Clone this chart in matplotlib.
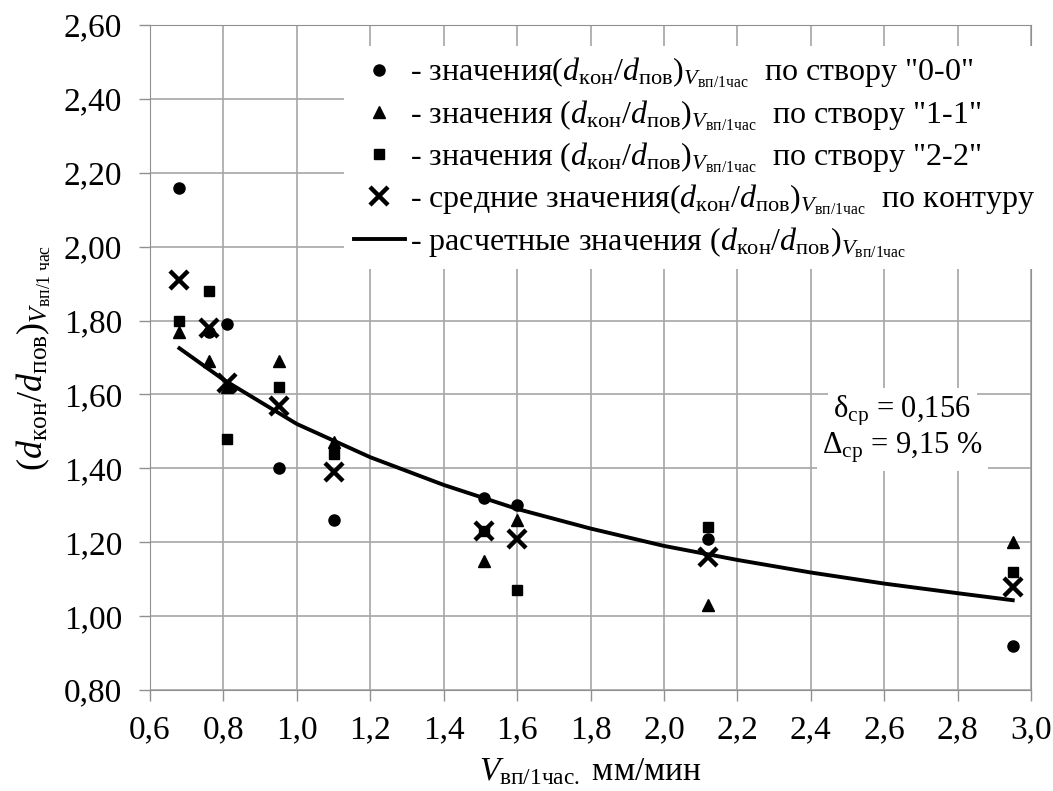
import matplotlib.pyplot as plt
from matplotlib.ticker import FuncFormatter, MultipleLocator

plt.rcParams['font.family'] = ['Liberation Serif', 'DejaVu Serif']
plt.rcParams['mathtext.fontset'] = 'custom'
plt.rcParams['mathtext.rm'] = 'Liberation Serif'
plt.rcParams['mathtext.it'] = 'Liberation Serif:italic'
plt.rcParams['mathtext.bf'] = 'Liberation Serif:bold'

# скорости водопонижения, мм/мин
xVals = [0.68, 0.76, 0.81, 0.95, 1.10, 1.51, 1.60, 2.12, 2.95]

# створ "0-0", "1-1", "2-2" и среднее по контуру
y00 = [2.16, 1.77, 1.79, 1.40, 1.26, 1.32, 1.30, 1.21, 0.92]
y11 = [1.77, 1.69, 1.62, 1.69, 1.47, 1.15, 1.26, 1.03, 1.20]
y22 = [1.80, 1.88, 1.48, 1.62, 1.44, 1.23, 1.07, 1.24, 1.12]
yMean = [1.91, 1.78, 1.63, 1.57, 1.39, 1.23, 1.21, 1.16, 1.08]

# расчетная кривая
xCalc = [0.68, 0.80, 1.00, 1.20, 1.40, 1.60, 1.80, 2.00, 2.20, 2.40, 2.60, 2.80, 2.95]
yCalc = [1.725, 1.64, 1.52, 1.43, 1.355, 1.29, 1.237, 1.19, 1.152, 1.118, 1.088, 1.062, 1.043]

ratio = r'$(d_{\mathrm{кон}}/d_{\mathrm{пов}})_{V_{\mathrm{вп/1час}}}$'
labels = ['- значения' + ratio + '  по створу "0-0"',
          '- значения ' + ratio + '  по створу "1-1"',
          '- значения ' + ratio + '  по створу "2-2"',
          '- средние значения' + ratio + '  по контуру',
          '- расчетные значения ' + ratio]

fig = plt.figure(figsize=(10.53, 7.91), dpi=100)
ax = fig.add_axes([0.1425, 0.1277, 0.8367, 0.8407])

ax.plot(xCalc, yCalc, color='black', lw=2.8, zorder=3, label=labels[4])
ax.plot(xVals, y00, 'o', color='black', ms=8, zorder=4, label=labels[0])
ax.plot(xVals, y11, '^', color='black', ms=8, zorder=4, label=labels[1])
ax.plot(xVals, y22, 's', color='black', ms=7.5, zorder=4, label=labels[2])
ax.plot(xVals, yMean, 'x', color='black', ms=13, mew=3.2, zorder=5, label=labels[3])

ax.set_xlim(0.6, 3.0)
ax.set_ylim(0.8, 2.6)
ax.xaxis.set_major_locator(MultipleLocator(0.2))
ax.yaxis.set_major_locator(MultipleLocator(0.2))
ax.xaxis.set_major_formatter(FuncFormatter(lambda v, p: f'{v:.1f}'.replace('.', ',')))
ax.yaxis.set_major_formatter(FuncFormatter(lambda v, p: f'{v:.2f}'.replace('.', ',')))
ax.tick_params(labelsize=24, direction='out', length=8, color='#909090', width=1)
ax.tick_params(axis='y', pad=12)
ax.tick_params(axis='x', pad=10)
ax.grid(color='#a6a6a6', lw=1.2)
ax.set_axisbelow(True)
for s in ax.spines.values():
    s.set_color('#909090')

ax.set_xlabel(r'$V_{\mathrm{вп/1час.}}$ мм/мин', fontsize=24, labelpad=8)
ax.set_ylabel(r'$(d_{\mathrm{кон}}/d_{\mathrm{пов}})_{V_{\mathrm{вп/1\ час}}}$', fontsize=26, labelpad=8)

box = dict(facecolor='white', edgecolor='none', pad=4)
ax.text(2.649, 1.555, r'δ$_{\mathrm{ср}}$ = 0,156', fontsize=22, ha='center', va='center',
        bbox=box, zorder=2)
ax.text(2.649, 1.455, r'Δ$_{\mathrm{ср}}$ = 9,15 %', fontsize=22, ha='center', va='center',
        bbox=box, zorder=2)

handles, labs = ax.get_legend_handles_labels()
order = [1, 2, 3, 4, 0]
leg = ax.legend([handles[i] for i in order], [labs[i] for i in order],
                loc='upper right', bbox_to_anchor=(1.019, 0.973), fontsize=23,
                frameon=True, framealpha=1, edgecolor='none', fancybox=False,
                handlelength=1.6, handletextpad=0.15, labelspacing=0.24,
                borderpad=0.3, borderaxespad=0.1)
leg.get_frame().set_facecolor('white')

fig.savefig('out.png', dpi=100)
